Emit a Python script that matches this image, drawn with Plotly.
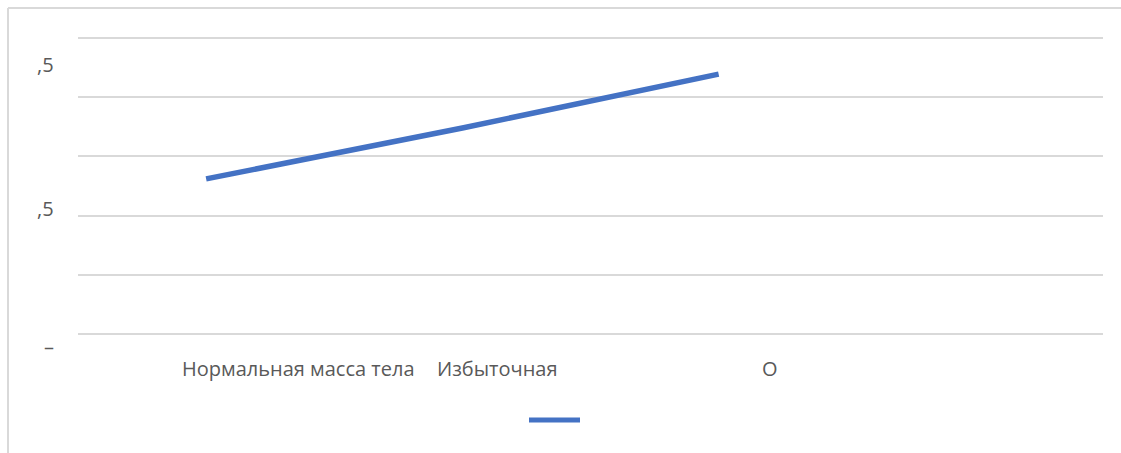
import plotly.graph_objects as go

# Data
categories = ["Нормальная масса тела", "Избыточная", "О", ""]
values = [2.62, 3.48, 4.39, None]
y_grid_values = [0, 1, 2, 3, 4, 5]
y_tick_labels = [",5", ",5", "–"]
y_tick_label_px = [64, 209, 346]

W, H = 1121, 453
ML, MR, MT, MB = 78, 18, 38, 119
PW, PH = W - ML - MR, H - MT - MB

def px_x(p):
    return (p - ML) / PW

def px_y(p):
    return (H - MB - p) / PH

GRAY = "#595959"
FONT = "Open Sans"
BLUE = "#4472C4"
GRID = "#d9d9d9"

fig = go.Figure()
fig.add_trace(go.Scatter(
    x=list(range(len(categories))), y=values, mode="lines",
    line=dict(color=BLUE, width=5.5), showlegend=False, connectgaps=False,
))

fig.update_layout(
    width=W, height=H,
    margin=dict(l=ML, r=MR, t=MT, b=MB),
    paper_bgcolor="white", plot_bgcolor="white",
    showlegend=False,
    xaxis=dict(range=[-0.5, len(categories) - 0.5], showgrid=False, zeroline=False,
               showticklabels=False, showline=False, ticks=""),
    yaxis=dict(range=[min(y_grid_values), max(y_grid_values)], tickvals=y_grid_values,
               showticklabels=False, showgrid=True, gridcolor=GRID, gridwidth=2,
               zeroline=False, showline=False),
)

annotations = []
shifts = [-26, -27, 41]
for i, (lab, sh) in enumerate(zip(categories[:3], shifts)):
    annotations.append(dict(x=i, xref="x", y=px_y(368), yref="paper", text=lab,
                            showarrow=False, xanchor="left", yanchor="middle", xshift=sh,
                            font=dict(family=FONT, size=20, color=GRAY)))
for lab, pos in zip(y_tick_labels, y_tick_label_px):
    annotations.append(dict(x=px_x(56), xref="paper", y=px_y(pos), yref="paper", text=lab,
                            showarrow=False, xanchor="right", yanchor="middle",
                            font=dict(family=FONT, size=20, color=GRAY)))
fig.update_layout(annotations=annotations)

shapes = []
# edge gridlines (plotly skips gridlines lying on the plot edges)
for v in (0, 1):
    shapes.append(dict(type="line", xref="paper", yref="paper", x0=0, x1=1, y0=v, y1=v,
                       layer="below", line=dict(color=GRID, width=2)))
shapes += [
    dict(type="line", xref="paper", yref="paper", x0=px_x(8), x1=px_x(W + 2),
         y0=px_y(8), y1=px_y(8), line=dict(color=GRID, width=2)),
    dict(type="line", xref="paper", yref="paper", x0=px_x(8), x1=px_x(8),
         y0=px_y(8), y1=px_y(H + 2), line=dict(color=GRID, width=2)),
    dict(type="line", xref="paper", yref="paper", x0=px_x(529), x1=px_x(580),
         y0=px_y(420), y1=px_y(420), line=dict(color=BLUE, width=5)),
]
fig.update_layout(shapes=shapes)

fig.write_html("out.html")
